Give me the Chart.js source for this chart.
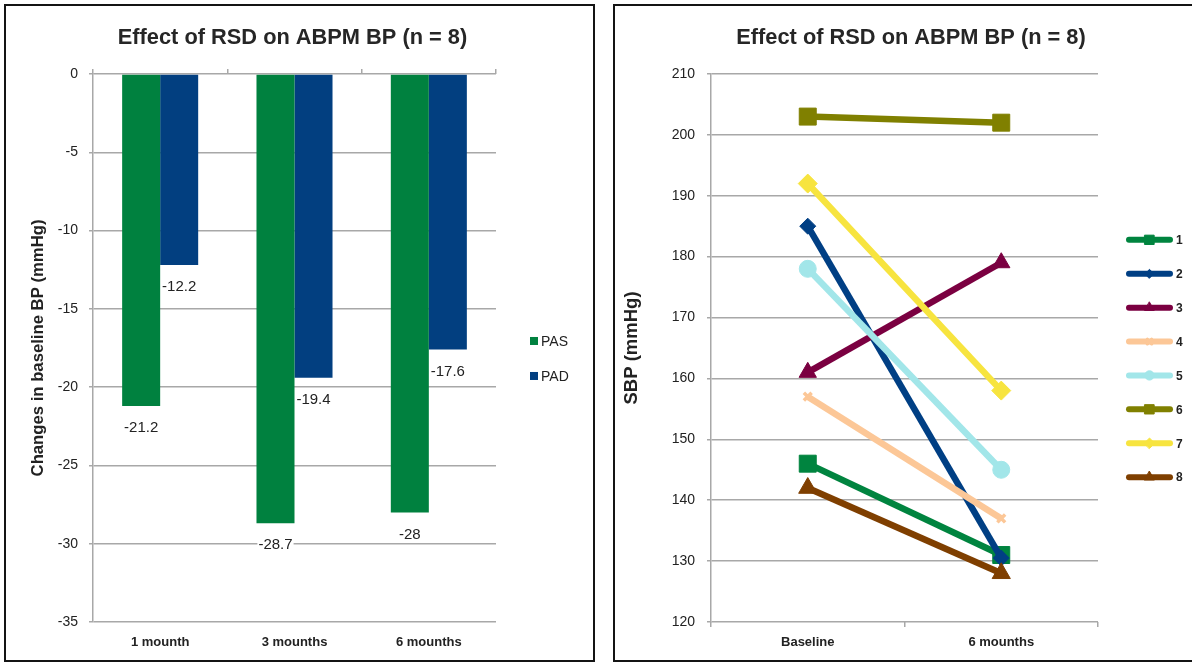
<!DOCTYPE html>
<html>
<head>
<meta charset="utf-8">
<script src="https://cdn.jsdelivr.net/npm/chart.js@4.4.1/dist/chart.umd.min.js"></script>
<style>
  html, body { margin: 0; padding: 0; width: 1192px; height: 664px; overflow: hidden; background: #fff; }
  .panel { position: absolute; top: 4px; height: 658px; border: 2px solid #141414; box-sizing: border-box; background: #fff; }
  #panelLeft { left: 4px; width: 591px; }
  #panelRight { left: 613px; width: 600px; }
  canvas { position: absolute; top: 6px; }
  #chartLeft { left: 6px; }
  #chartRight { left: 616px; }
</style>
</head>
<body>
<div class="panel" id="panelLeft"></div>
<div class="panel" id="panelRight"></div>
<canvas id="chartLeft" width="573" height="654"></canvas>
<canvas id="chartRight" width="590" height="654"></canvas>
<script>
// ---- data: change from baseline (bar chart) ----
const periods = ['1 mounth', '3 mounths', '6 mounths'];
const pasChange = [-21.2, -28.7, -28];
const padChange = [-12.2, -19.4, -17.6];

// ---- data: systolic BP per patient (line chart) ----
const timepoints = ['Baseline', '6 mounths'];
const patientIds = ['1', '2', '3', '4', '5', '6', '7', '8'];
const sbpPatient1 = [146, 131];
const sbpPatient2 = [185, 130.5];
const sbpPatient3 = [161, 179];
const sbpPatient4 = [157, 137];
const sbpPatient5 = [178, 145];
const sbpPatient6 = [203, 202];
const sbpPatient7 = [192, 158];
const sbpPatient8 = [142, 128];
const sbpSeries = [sbpPatient1, sbpPatient2, sbpPatient3, sbpPatient4,
                   sbpPatient5, sbpPatient6, sbpPatient7, sbpPatient8];

// ---- styling ----
const FONT = "'Liberation Sans Narrow', 'Arial Narrow', 'Liberation Sans', sans-serif";
const TEXT = '#222222';
const GRID = '#a8a8a8';
const PAS_COLOR = '#00813f';
const PAD_COLOR = '#023f80';
const patientColors = ['#00843f', '#003f84', '#7b0041', '#fcc797', '#a2e6e9', '#808000', '#f7e43f', '#7f3f00'];
const patientMarkers = [
  { style: 'rect', radius: 12 },
  { style: 'rectRot', radius: 8 },
  { style: 'triangle', radius: 10 },
  { style: 'crossRot', radius: 5.5 },
  { style: 'circle', radius: 8.5 },
  { style: 'rect', radius: 12 },
  { style: 'rectRot', radius: 9.5 },
  { style: 'triangle', radius: 10.5 }
];

Chart.defaults.font.family = FONT;
Chart.defaults.color = TEXT;

// Value labels placed just below the end of each (negative) bar, on a white backing.
const barValueLabels = {
  id: 'barValueLabels',
  beforeDatasetsDraw(chart, args, opts) {
    const ctx = chart.ctx;
    ctx.save();
    ctx.font = `${opts.size}px ${FONT}`;
    ctx.textAlign = 'center';
    ctx.textBaseline = 'middle';
    chart.data.datasets.forEach((ds, di) => {
      chart.getDatasetMeta(di).data.forEach((bar, i) => {
        const text = String(ds.data[i]);
        const y = bar.y + opts.offset;
        const w = ctx.measureText(text).width;
        ctx.fillStyle = '#ffffff';
        ctx.fillRect(bar.x - w / 2 - 1, y - opts.size / 2 - 1, w + 2, opts.size + 2);
        ctx.fillStyle = TEXT;
        ctx.fillText(text, bar.x, y);
      });
    });
    ctx.restore();
  }
};

// Vertical legend to the right of the plot area.
const sideLegend = {
  id: 'sideLegend',
  afterDraw(chart, args, opts) {
    const ctx = chart.ctx;
    const area = chart.chartArea;
    const n = chart.data.datasets.length;
    const midY = (area.top + area.bottom) / 2 + opts.shiftY;
    const firstY = midY - (n - 1) * opts.spacing / 2;
    const x0 = area.right + opts.gap;
    ctx.save();
    chart.data.datasets.forEach((ds, i) => {
      const y = firstY + i * opts.spacing;
      let textX;
      if (opts.kind === 'box') {
        ctx.fillStyle = ds.backgroundColor;
        ctx.fillRect(x0, y - opts.box / 2, opts.box, opts.box);
        textX = x0 + opts.box + opts.textGap;
      } else {
        ctx.strokeStyle = ds.borderColor;
        ctx.lineWidth = opts.lineWidth;
        ctx.lineCap = 'round';
        ctx.beginPath();
        ctx.moveTo(x0, y);
        ctx.lineTo(x0 + opts.length, y);
        ctx.stroke();
        ctx.fillStyle = ds.pointBackgroundColor;
        ctx.strokeStyle = ds.pointBorderColor;
        ctx.lineWidth = ds.pointBorderWidth;
        Chart.helpers.drawPoint(ctx, { pointStyle: ds.pointStyle, radius: ds.pointRadius * 0.55, borderWidth: ds.pointBorderWidth, rotation: 0 }, x0 + opts.length / 2, y);
        textX = x0 + opts.length + opts.textGap;
      }
      ctx.fillStyle = TEXT;
      ctx.font = `${opts.weight} ${opts.size}px ${FONT}`;
      ctx.textAlign = 'left';
      ctx.textBaseline = 'middle';
      ctx.fillText(ds.label, textX, y + 1);
    });
    ctx.restore();
  }
};

// Invisible right-hand axis that keeps room for the side legend
// without narrowing the title box.
const legendRoom = (width) => ({
  type: 'linear',
  position: 'right',
  grid: { display: false, drawTicks: false },
  border: { display: false },
  ticks: { display: false },
  afterFit(s) { s.width = width; }
});

const titleText = 'Effect of RSD on ABPM BP (n = 8)';

// ---- left: bar chart of BP changes ----
new Chart(document.getElementById('chartLeft'), {
  type: 'bar',
  data: {
    labels: periods,
    datasets: [
      { label: 'PAS', data: pasChange, backgroundColor: PAS_COLOR },
      { label: 'PAD', data: padChange, backgroundColor: PAD_COLOR }
    ]
  },
  options: {
    responsive: false,
    animation: false,
    devicePixelRatio: 1,
    layout: { padding: 0 },
    datasets: { bar: { categoryPercentage: 0.566, barPercentage: 1 } },
    scales: {
      x: {
        position: 'bottom',
        grid: { display: false, drawTicks: false },
        border: { display: false },
        ticks: { padding: 13, font: { size: 13, weight: 'bold' }, color: TEXT },
        afterFit(s) { s.height = 38; }
      },
      xTop: {
        type: 'category',
        position: 'top',
        labels: periods,
        offset: true,
        grid: { drawOnChartArea: false, drawTicks: true, tickLength: 5, color: GRID, lineWidth: 1.5, offset: true },
        border: { display: false },
        ticks: { display: false },
        afterFit(s) { s.height = 5; }
      },
      y: {
        min: -35,
        max: 0,
        ticks: { stepSize: 5, padding: 11, font: { size: 14 }, color: TEXT },
        grid: { color: GRID, lineWidth: 1.5, tickLength: 4 },
        border: { color: GRID, width: 1.5 },
        title: {
          display: true,
          text: 'Changes in baseline BP (mmHg)',
          font: { size: 16.7, weight: 'bold' },
          color: TEXT,
          padding: { top: 22, bottom: 0 }
        },
        afterFit(s) { s.width = 87; }
      },
      legendRoom: legendRoom(83)
    },
    plugins: {
      legend: { display: false },
      tooltip: { enabled: false },
      title: {
        display: true,
        text: titleText,
        font: { size: 21.8, weight: 'bold' },
        color: '#262626',
        padding: { top: 19, bottom: 17.8 }
      },
      barValueLabels: { size: 15, offset: 22 },
      sideLegend: { kind: 'box', gap: 34, box: 8, textGap: 3, spacing: 35, shiftY: 10.5, size: 14, weight: 'normal' }
    }
  },
  plugins: [barValueLabels, sideLegend]
});

// ---- right: line chart of systolic BP per patient ----
new Chart(document.getElementById('chartRight'), {
  type: 'line',
  data: {
    labels: timepoints,
    datasets: sbpSeries.map((values, i) => ({
      label: patientIds[i],
      data: values,
      borderColor: patientColors[i],
      backgroundColor: patientColors[i],
      borderWidth: 6.5,
      pointStyle: patientMarkers[i].style,
      pointRadius: patientMarkers[i].radius,
      pointBackgroundColor: patientColors[i],
      pointBorderColor: patientColors[i],
      pointBorderWidth: patientMarkers[i].style === 'crossRot' ? 3.5 : 1,
      order: sbpSeries.length - i,
      clip: false
    }))
  },
  options: {
    responsive: false,
    animation: false,
    devicePixelRatio: 1,
    layout: { padding: 0 },
    scales: {
      x: {
        offset: true,
        grid: { drawOnChartArea: false, drawTicks: true, tickLength: 5, color: GRID, lineWidth: 1.5, offset: true },
        border: { display: false },
        ticks: { padding: 8, font: { size: 13, weight: 'bold' }, color: TEXT },
        afterFit(s) { s.height = 38; }
      },
      y: {
        min: 120,
        max: 210,
        ticks: { stepSize: 10, padding: 12, font: { size: 14 }, color: TEXT },
        grid: { color: GRID, lineWidth: 1.5, tickLength: 4 },
        border: { color: GRID, width: 1.5 },
        title: {
          display: true,
          text: 'SBP (mmHg)',
          font: { size: 18.5, weight: 'bold' },
          color: TEXT,
          padding: { top: 5, bottom: 0 }
        },
        afterFit(s) { s.width = 95; }
      },
      legendRoom: legendRoom(108)
    },
    plugins: {
      legend: { display: false },
      tooltip: { enabled: false },
      title: {
        display: true,
        text: titleText,
        font: { size: 21.8, weight: 'bold' },
        color: '#262626',
        padding: { top: 19, bottom: 22.8 }
      },
      sideLegend: { kind: 'line', gap: 31, length: 41, lineWidth: 6, textGap: 6, spacing: 33.9, shiftY: 10.5, size: 12, weight: 'bold' }
    }
  },
  plugins: [sideLegend]
});
</script>
</body>
</html>
